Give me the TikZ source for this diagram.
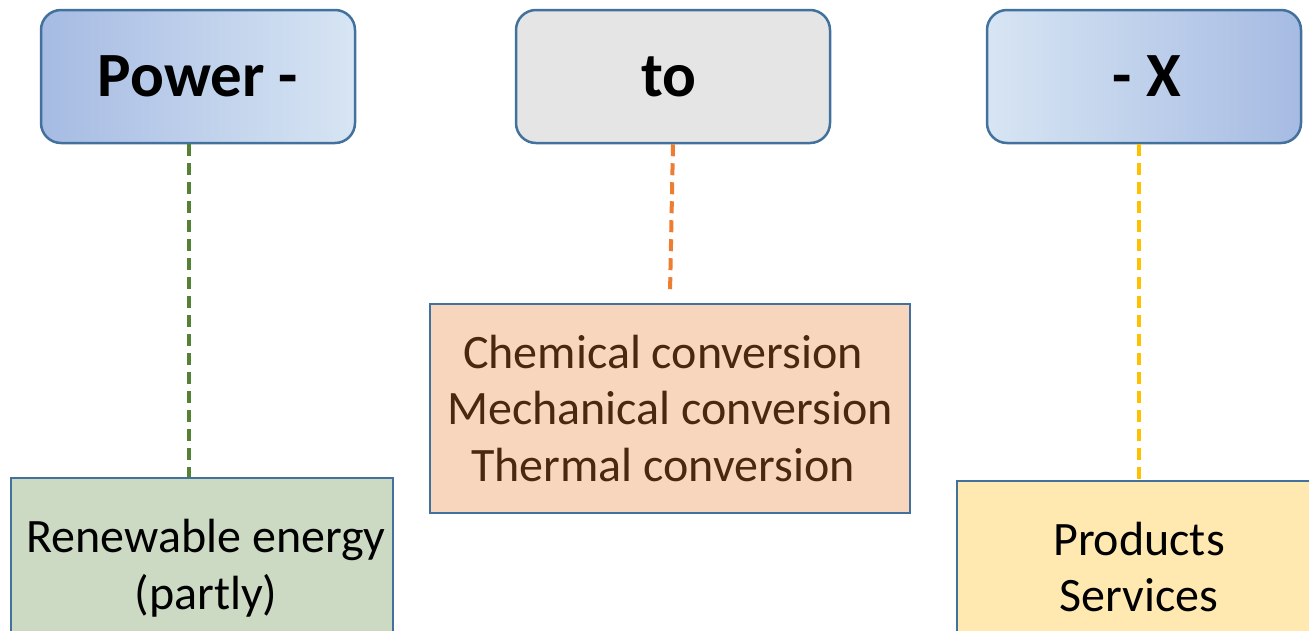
\documentclass[tikz,border=0pt]{standalone}
\usepackage{fontspec}
\setmainfont{Carlito}
\definecolor{bord}{HTML}{41719C}
\definecolor{bdark}{HTML}{A6BBE3}
\definecolor{blight}{HTML}{D7E5F3}
\definecolor{gfill}{HTML}{CCDAC3}
\definecolor{ofill}{HTML}{F8D6BD}
\definecolor{yfill}{HTML}{FFE9B1}
\definecolor{brown}{HTML}{4A2810}
\definecolor{gline}{HTML}{548235}
\definecolor{oline}{HTML}{ED7D31}
\definecolor{yline}{HTML}{FFC000}
\begin{document}
\begin{tikzpicture}[x=1pt,y=-1pt,
  topbox/.style={draw=bord,line width=2.5pt,rounded corners=20pt,minimum width=314pt,minimum height=133pt,inner sep=0pt,font=\fontsize{63}{70}\selectfont\bfseries},
  lowbox/.style={draw=bord,line width=2.5pt,inner sep=0pt,align=center,font=\fontsize{48}{56.5}\selectfont},
  dline/.style={line width=4pt,dash pattern=on 12pt off 7pt}]
\useasboundingbox (0,0) rectangle (1309,630);
\clip (0,0) rectangle (1309,630);
\node[topbox,left color=bdark,right color=blight] (pw) at (198,76.5) {Power -};
\node[topbox,fill=black!10] (to) at (673,76.5) {\hspace*{-8pt}to};
\node[topbox,left color=blight,right color=bdark] (px) at (1144,76.5) {- X\hspace*{-6pt}};
\node[lowbox,fill=gfill,minimum width=382pt,minimum height=180pt] (ren) at (202,568) {\hspace*{8pt}Renewable energy\\\hspace*{8pt}(partly)};
\node[lowbox,fill=ofill,text=brown,minimum width=480pt,minimum height=209pt] (conv) at (670,408.5) {Chemical conversion\hspace*{14pt}\\Mechanical conversion\hspace*{14pt}\\Thermal conversion\hspace*{14pt}};
\node[lowbox,fill=yfill,minimum width=360pt,minimum height=172pt] (prod) at (1137,567) {\hspace*{4pt}Products\\\hspace*{4pt}Services};
\coordinate (oend) at (670,293);
\draw[dline,gline] (pw.south -| 189,0) -- (ren.north -| 189,0);
\draw[dline,oline] (to.south) -- (oend);
\draw[dline,yline] (px.south -| 1139,0) -- (prod.north -| 1139,0);
\end{tikzpicture}
\end{document}
